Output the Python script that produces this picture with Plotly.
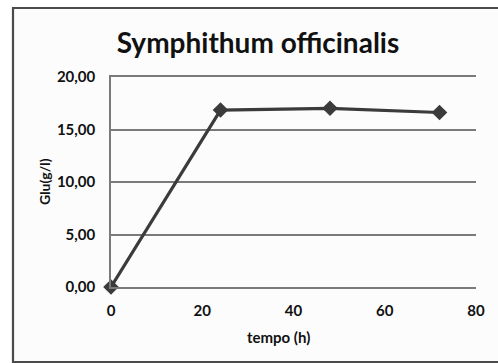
import plotly.graph_objects as go

# Glucose concentration over time
tempo_h = [0, 24, 48, 72]
glu_g_l = [0.0, 16.85, 17.02, 16.62]

x_ticks = [0, 20, 40, 60, 80]
y_ticks = [0, 5, 10, 15, 20]

line_col = "#3b3b3b"
grid_col = "#7a7a7a"
font_family = "Lato"

fig = go.Figure()
fig.add_trace(go.Scatter(
    x=tempo_h, y=glu_g_l,
    mode="lines+markers",
    line=dict(color=line_col, width=3.2),
    marker=dict(symbol="diamond", size=12, color=line_col),
    cliponaxis=False,
    showlegend=False,
))

W, H = 498, 363
L, R, T, B = 111, 22, 77, 76
pw, ph = W - L - R, H - T - B


def px(x):
    return (x - L) / pw


def py(y):
    return 1 - (y - T) / ph


fig.update_layout(
    width=W, height=H,
    margin=dict(l=L, r=R, t=T, b=B),
    paper_bgcolor="white",
    plot_bgcolor="rgba(0,0,0,0)",
    separators=",.",
    font=dict(family=font_family, color="#111111"),
    title=dict(
        text="<b>Symphithum officinalis</b>",
        xref="container", yref="container",
        x=258 / W, xanchor="center",
        y=1 - 43 / H, yanchor="middle",
        font=dict(size=28, family=font_family, color="#111111"),
    ),
    xaxis=dict(
        range=[0, 80], tickvals=x_ticks, ticktext=[f"<b>{v}</b>" for v in x_ticks],
        showgrid=False, zeroline=False,
        showline=True, mirror=True, linecolor=grid_col, linewidth=1.6,
        ticks="", tickfont=dict(size=15), ticklabelstandoff=9,
        fixedrange=True,
    ),
    yaxis=dict(
        range=[0, 20], tickvals=y_ticks,
        ticktext=[f"<b>{v:.2f}</b>".replace(".", ",") for v in y_ticks],
        showgrid=True, gridcolor=grid_col, gridwidth=1.6,
        zeroline=False, showline=True, linecolor=grid_col, linewidth=1.6,
        ticks="", tickfont=dict(size=15), ticklabelstandoff=11,
        fixedrange=True,
    ),
    annotations=[
        dict(text="<b>tempo (h)</b>", xref="paper", yref="paper",
             x=px(278), y=py(337), xanchor="center", yanchor="middle",
             showarrow=False, font=dict(size=15, family=font_family, color="#111111")),
        dict(text="<b>Glu(g/l)</b>", xref="paper", yref="paper",
             x=px(44), y=py(182), xanchor="center", yanchor="middle",
             textangle=-90, showarrow=False,
             font=dict(size=14, family=font_family, color="#111111")),
    ],
    shapes=[
        dict(type="rect", xref="paper", yref="paper",
             x0=px(13), x1=px(510), y0=py(362), y1=py(8),
             line=dict(color="#4a4a4a", width=2.2), fillcolor="#fcfcfc",
             layer="below"),
    ],
)

fig.write_html("out.html")
